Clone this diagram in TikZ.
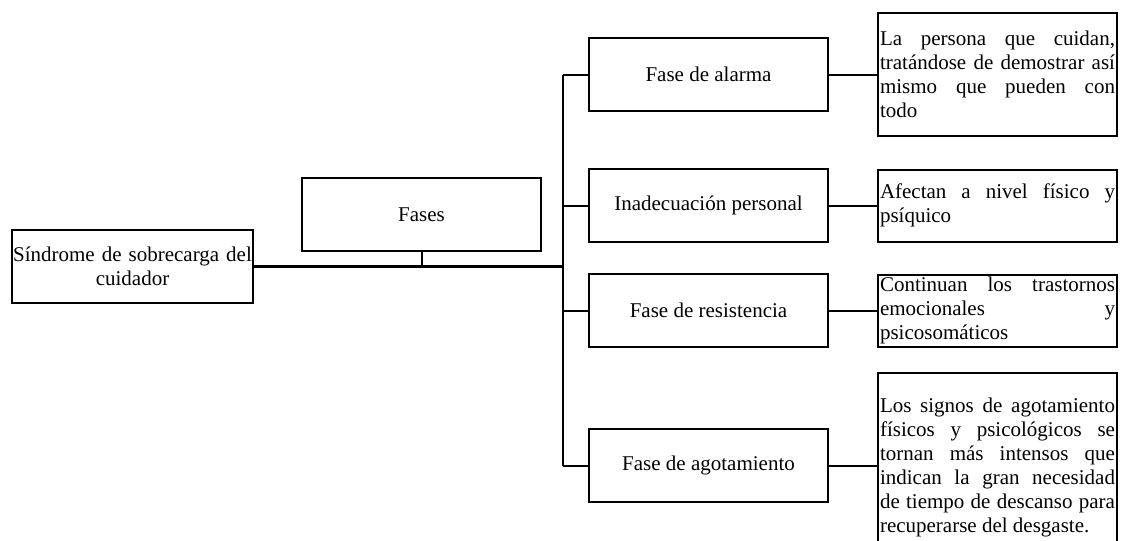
\documentclass[tikz,border=0pt]{standalone}
\usepackage{fontspec}
\setmainfont{Liberation Serif}
\usetikzlibrary{positioning}
\tolerance=10000
\hbadness=10000
\hfuzz=20pt
\hyphenpenalty=10000

\begin{document}
\begin{tikzpicture}[
	x=1pt, y=-1pt,
	node distance=48pt,
	every node/.style={font=\fontsize{21}{24}\selectfont},
	block/.style={draw, line width=2pt, minimum width=239pt, minimum height=73pt,
		inner sep=0pt, text centered},
	note/.style={draw, line width=2pt, text width=235pt, inner xsep=2pt,
		inner ysep=0pt, align=justify},
	link/.style={line width=2pt},
	hub/.style={line width=3pt}]
\useasboundingbox (0,0) rectangle (1125,541);

\node[block, text width=241pt] (sind) at (132.5,266.5) {Síndrome de sobrecarga del\\ cuidador};
\node[block, right=47pt of sind, yshift=52pt] (fases) {Fases};

\node[block] (alarma) at (708.5,74.5) {Fase de alarma};
\node[block, below=56pt of alarma] (inad) {Inadecuación personal};
\node[block, below=30pt of inad] (resist) {Fase de resistencia};
\node[block, below=80pt of resist] (agot) {Fase de agotamiento};

\node[note, right=of alarma, minimum height=123pt] (n1) {La persona que cuidan,\linebreak
	tratándose de demostrar así\linebreak mismo que pueden con\linebreak todo};
\node[note, right=of inad, minimum height=72pt] (n2) {Afectan a nivel físico y\linebreak psíquico};
\node[note, right=of resist, minimum height=72pt] (n3) {Continuan los trastornos\linebreak
	emocionales y\linebreak psicosomáticos};
\node[note, right=of agot, yshift=-2pt, minimum height=190pt] (n4) {Los signos de agotamiento\linebreak
	físicos y psicológicos se\linebreak tornan más intensos que\linebreak
	indican la gran necesidad\linebreak de tiempo de descanso para\linebreak
	recuperarse del desgaste.};

\coordinate (top) at ([xshift=-25pt]alarma.west);
\coordinate (bot) at ([xshift=-25pt]agot.west);

\draw[link, line width=2.5pt] (top) -- (bot);
\draw[hub] (sind.east) -- (sind.east -| top);
\draw[link] (fases.south) -- (fases.south |- sind.east);

\foreach \p/\n in {alarma/n1, inad/n2, resist/n3} {
	\draw[link] (\p.west) -- (\p.west -| top);
	\draw[link] (\p.east) -- (\n.west);
}
\draw[link] (agot.west) -- (agot.west -| top);
\draw[link] (agot.east) -- (agot.east -| n4.west);
\end{tikzpicture}
\end{document}
